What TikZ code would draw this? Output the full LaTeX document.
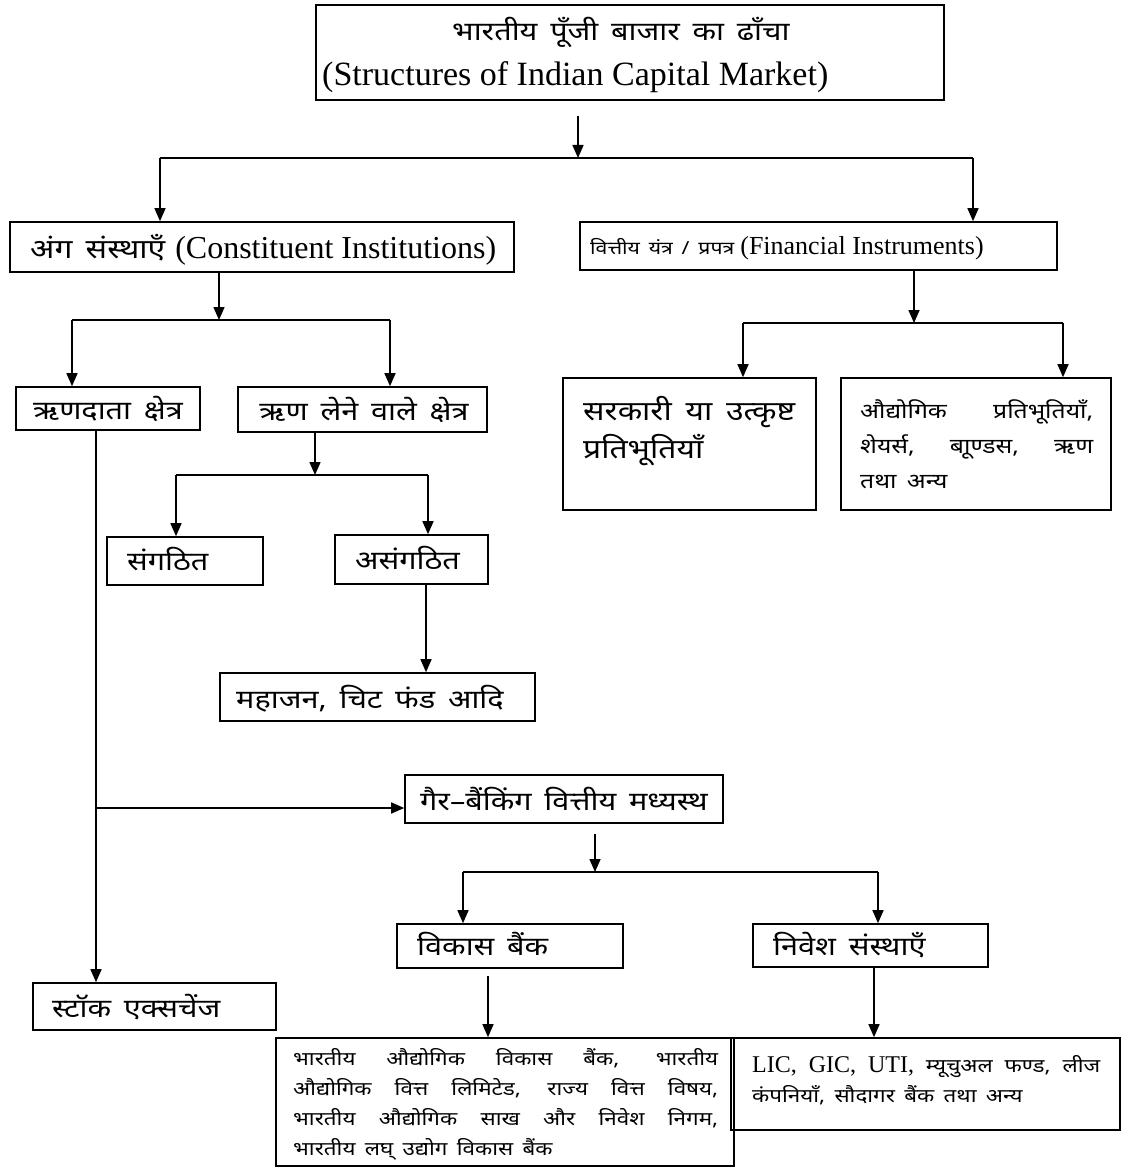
\documentclass[tikz,border=0pt]{standalone}
\usepackage{fontspec}
\usetikzlibrary{arrows.meta}
\setmainfont{Liberation Serif}
\newfontfamily\dev[Script=Devanagari, FakeStretch=1.18, WordSpace=1.6]{Noto Sans}
\newcommand\fsz[2]{\fontsize{#1}{#2}\selectfont}
\newcommand\jline[2]{\makebox[#1][s]{#2}}
\begin{document}
\begin{tikzpicture}[x=1pt,y=-1pt,
  box/.style={draw, line width=1.6pt, inner sep=0pt},
  txt/.style={inner sep=0pt, anchor=base west},
  dv/.style={txt, font=\dev\fsz{#1}{#1}},
  ln/.style={line width=1.5pt},
  arr/.style={line width=1.5pt, -{Triangle[length=13pt,width=11pt]}}]
\useasboundingbox (0,0) rectangle (1137,1169);
\fill[white] (0,0) rectangle (1137,1169);
% boxes
\node[box, minimum width=628pt, minimum height=95pt] (title) at (630,52.5) {};
\node[box, minimum width=504pt, minimum height=50pt] (ci) at (262,247) {};
\node[box, minimum width=477pt, minimum height=48pt] (fi) at (818.5,246) {};
\node[box, minimum width=184pt, minimum height=43pt] (rd) at (108,408.5) {};
\node[box, minimum width=249pt, minimum height=45pt] (rl) at (362.5,409.5) {};
\node[box, minimum width=156pt, minimum height=48pt] (sg) at (185,561) {};
\node[box, minimum width=153pt, minimum height=49pt] (asg) at (411.5,559.5) {};
\node[box, minimum width=315pt, minimum height=48pt] (mh) at (377.5,697) {};
\node[box, minimum width=318pt, minimum height=48pt] (gb) at (564,799) {};
\node[box, minimum width=226pt, minimum height=44pt] (vb) at (510,946) {};
\node[box, minimum width=235pt, minimum height=43pt] (ns) at (870.5,945.5) {};
\node[box, minimum width=243pt, minimum height=47pt] (se) at (154.5,1006.5) {};
\node[box, minimum width=253pt, minimum height=132pt] (sk) at (689.5,444) {};
\node[box, minimum width=270pt, minimum height=132pt] (ap) at (976,444) {};
\node[box, minimum width=458pt, minimum height=128pt] (bl) at (505,1102) {};
\node[box, minimum width=389pt, minimum height=92pt] (lic) at (925.5,1084) {};
% texts
\node[dv=26] (t1) at (452,41) {भारतीय पूँजी बाजार का ढाँचा};
\node[txt] (t2) at (322,86) {\fsz{34}{38}(Structures of Indian Capital Market)};
\node[txt] (tci) at (30,258) {{\dev\fsz{27}{30}अंग संस्थाएँ}\hspace{10pt}\fsz{32}{34}(Constituent Institutions)};
\node[txt] (tfi) at (590,254) {{\dev\fsz{18}{20}वित्तीय यंत्र / प्रपत्र}\hspace{6pt}\fsz{26}{30}(Financial Instruments)};
\node[dv=26, anchor=base] (trd) at (108,419) {ऋणदाता क्षेत्र};
\node[dv=26, anchor=base] (trl) at (364,420) {ऋण लेने वाले क्षेत्र};
\node[dv=26] (tsg) at (127,570) {संगठित};
\node[dv=26] (tasg) at (355,569) {असंगठित};
\node[dv=26] (tmh) at (236,708) {महाजन, चिट फंड आदि};
\node[dv=26] (tgb) at (420,810) {गैर–बैंकिंग वित्तीय मध्यस्थ};
\node[dv=26] (tvb) at (417,955) {विकास बैंक};
\node[dv=26] (tns) at (773,955) {निवेश संस्थाएँ};
\node[dv=26] (tse) at (52,1017) {स्टॉक एक्सचेंज};
\node[dv=27] (tsk1) at (583,420) {\jline{212pt}{सरकारी या उत्कृष्ट}};
\node[dv=27] (tsk2) at (583,458) {प्रतिभूतियाँ};
\node[dv=21] (tap1) at (860,418) {\jline{233pt}{औद्योगिक प्रतिभूतियाँ,}};
\node[dv=21] (tap2) at (860,453) {\jline{233pt}{शेयर्स, बाूण्डस, ऋण}};
\node[dv=21] (tap3) at (860,488) {तथा अन्य};
\node[dv=19] (tbl1) at (293,1065) {\jline{425pt}{भारतीय औद्योगिक विकास बैंक, भारतीय}};
\node[dv=19] (tbl2) at (293,1095) {\jline{425pt}{औद्योगिक वित्त लिमिटेड, राज्य वित्त विषय,}};
\node[dv=19] (tbl3) at (293,1125) {\jline{425pt}{भारतीय औद्योगिक साख और निवेश निगम,}};
\node[dv=19] (tbl4) at (293,1155) {भारतीय लघ् उद्योग विकास बैंक};
\node[txt] (tlic1) at (752,1072) {\makebox[348pt]{\fsz{24}{28}LIC,\hfill GIC,\hfill UTI,\hfill{\dev\fsz{19}{28}म्यूचुअल}\hfill{\dev\fsz{19}{28}फण्ड,}\hfill{\dev\fsz{19}{28}लीज}}};
\node[dv=19] (tlic2) at (752,1102) {कंपनियाँ, सौदागर बैंक तथा अन्य};
% connectors
\coordinate (j1) at (578,158);
\coordinate (j1l) at (160,158);
\coordinate (j1r) at (973,158);
\draw[arr] ([yshift=-15pt]title.south -| j1) -- (j1);
\draw[ln] (j1l) -- (j1r);
\draw[arr] (j1l) -- (j1l |- ci.north);
\draw[arr] (j1r) -- (j1r |- fi.north);
\coordinate (j2) at (219,320);
\coordinate (j2l) at (72,320);
\coordinate (j2r) at (390,320);
\draw[arr] (ci.south -| j2) -- (j2);
\draw[ln] (j2l) -- (j2r);
\draw[arr] (j2l) -- (j2l |- rd.north);
\draw[arr] (j2r) -- (j2r |- rl.north);
\coordinate (j3) at (914,323);
\coordinate (j3l) at (743,323);
\coordinate (j3r) at (1063,323);
\draw[arr] (fi.south -| j3) -- (j3);
\draw[ln] (j3l) -- (j3r);
\draw[arr] (j3l) -- (j3l |- sk.north);
\draw[arr] (j3r) -- (j3r |- ap.north);
\coordinate (j4) at (315,475);
\coordinate (j4l) at (176,475);
\coordinate (j4r) at (428,475);
\draw[arr] (rl.south -| j4) -- (j4);
\draw[ln] (j4l) -- (j4r);
\draw[arr] (j4l) -- (j4l |- sg.north);
\draw[arr] (j4r) -- (j4r |- asg.north);
\coordinate (a5) at (426,0);
\draw[arr] (asg.south -| a5) -- (mh.north -| a5);
\coordinate (a6) at (96,808);
\draw[arr] (rd.south -| a6) -- (se.north -| a6);
\draw[arr] (a6) -- (gb.west |- a6);
\coordinate (j7) at (595,872);
\coordinate (j7l) at (463,872);
\coordinate (j7r) at (878,872);
\draw[arr] ([yshift=-10pt]gb.south -| j7) -- (j7);
\draw[ln] (j7l) -- (j7r);
\draw[arr] (j7l) -- (j7l |- vb.north);
\draw[arr] (j7r) -- (j7r |- ns.north);
\coordinate (a8) at (488,0);
\draw[arr] ([yshift=-7pt]vb.south -| a8) -- (bl.north -| a8);
\coordinate (a9) at (874,0);
\draw[arr] (ns.south -| a9) -- (lic.north -| a9);
\end{tikzpicture}
\end{document}
